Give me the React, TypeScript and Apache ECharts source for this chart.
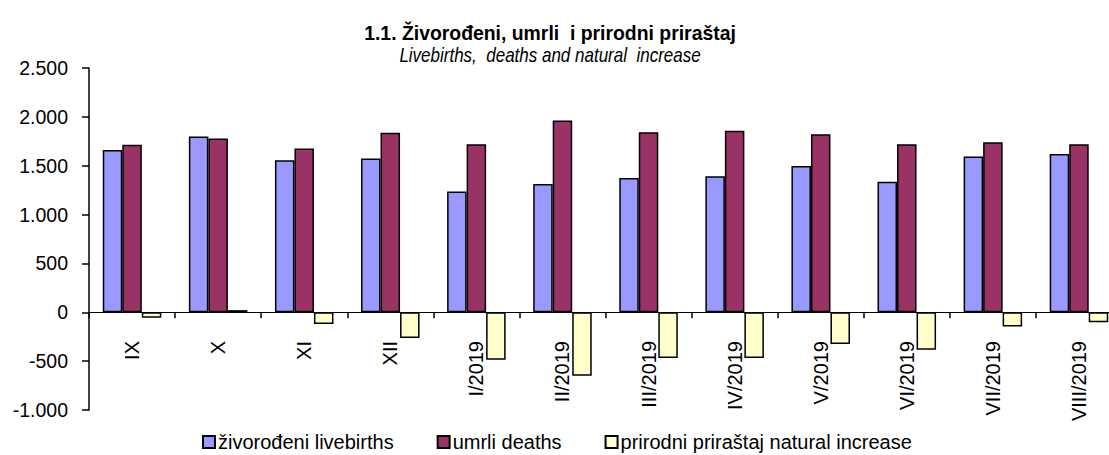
import React, { useEffect, useRef } from "react";
import * as echarts from "echarts";

const categories = ["IX", "X", "XI", "XII", "I/2019", "II/2019", "III/2019", "IV/2019", "V/2019", "VI/2019", "VII/2019", "VIII/2019"];
const livebirths = [1660, 1800, 1555, 1575, 1235, 1313, 1374, 1391, 1497, 1337, 1595, 1619];
const deaths = [1715, 1778, 1675, 1838, 1720, 1962, 1842, 1858, 1822, 1720, 1740, 1720];
const naturalIncrease = [-55, 22, -120, -263, -485, -649, -468, -467, -325, -383, -145, -101];
const seriesNames = ["živorođeni livebirths", "umrli deaths", "prirodni priraštaj natural increase"];
const colors = ["#9999FF", "#993366", "#FFFFCC"];
const titleText = "1.1. Živorođeni, umrli  i prirodni priraštaj";
const subtitleText = "Livebirths,  deaths and natural  increase";

const FONT = '"Liberation Sans Narrow", "Arial Narrow", "Liberation Sans", Arial, sans-serif';

function fmt(v: number): string {
  const s = Math.abs(v).toString().replace(/\B(?=(\d{3})+(?!\d))/g, ".");
  return (v < 0 ? "-" : "") + s;
}

export default function App() {
  const ref = useRef<HTMLDivElement>(null);
  useEffect(() => {
    if (!ref.current) return;
    const chart = echarts.init(ref.current, undefined, { renderer: "svg" });
    const data = [livebirths, deaths, naturalIncrease];
    chart.setOption({
      animation: false,
      backgroundColor: "#ffffff",
      textStyle: { fontFamily: FONT, color: "#000" },
      graphic: [
        {
          type: "text",
          x: 550,
          y: 33,
          scaleX: 0.97,
          style: { text: titleText, textAlign: "center", textVerticalAlign: "middle", font: `bold 20px ${FONT}`, fill: "#000" },
        },
        {
          type: "text",
          x: 550,
          y: 55,
          scaleX: 0.85,
          style: { text: subtitleText, textAlign: "center", textVerticalAlign: "middle", font: `italic 20px ${FONT}`, fill: "#000" },
        },
      ],
      grid: { left: 89, top: 68, height: 342, right: -13, containLabel: false, outerBoundsMode: "none" },
      legend: {
        left: 202,
        top: 432,
        padding: 0,
        itemWidth: 12,
        itemHeight: 12,
        itemGap: 43,
        icon: "rect",
        textStyle: { fontFamily: FONT, fontSize: 20, color: "#000", padding: [0, 0, 0, -2] },
        data: seriesNames,
      },
      xAxis: {
        type: "category",
        data: categories,
        axisLine: { onZero: true, lineStyle: { color: "#000", width: 1 } },
        axisTick: { show: true, alignWithLabel: false, length: 6, lineStyle: { color: "#000", width: 1.5 } },
        axisLabel: { rotate: 90, margin: -69, fontSize: 20, fontFamily: FONT, color: "#000", interval: 0 },
        splitLine: { show: false },
      },
      yAxis: {
        type: "value",
        min: -1000,
        max: 2500,
        interval: 500,
        axisLine: { show: true, lineStyle: { color: "#000", width: 1.5 } },
        axisTick: { show: true, length: 7, lineStyle: { color: "#000", width: 1.5 } },
        axisLabel: { formatter: fmt, fontSize: 19.5, fontFamily: FONT, color: "#000", margin: 21 },
        splitLine: { show: false },
      },
      series: seriesNames.map((name, i) => ({
        name,
        type: "bar",
        data: data[i],
        barGap: "0%",
        barCategoryGap: "32%",
        itemStyle: { color: colors[i], borderColor: "#000", borderWidth: 1.5 },
      })),
    });
    return () => chart.dispose();
  }, []);
  return <div ref={ref} style={{ position: "fixed", left: 0, top: 0, width: 1109, height: 455 }} />;
}
